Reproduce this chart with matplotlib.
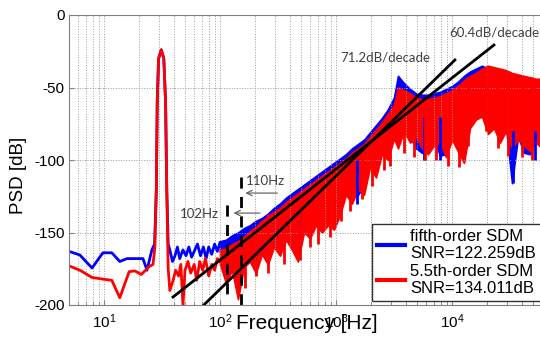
import matplotlib
matplotlib.use("Agg")
import matplotlib.pyplot as plt
from matplotlib.lines import Line2D

plt.rcParams["font.family"] = ["Liberation Sans", "DejaVu Sans"]
plt.rcParams["mathtext.default"] = "regular"
plt.rcParams["axes.unicode_minus"] = False

# --- low frequency part, drawn as plain lines (Hz, dB) ---
BLUE_LF_F = [5.0, 6.2, 7.9, 9.8, 11.7, 13.7, 15.8, 21.7, 23.5, 25.9, 27.3,
             28.3, 28.8, 29.6, 31.2, 32.8, 34.0, 34.8, 35.8,
             37, 39, 41, 43, 45, 48, 51, 54, 57, 60, 64, 68, 72, 76, 80, 85, 90, 95, 100]
BLUE_LF_DB = [-163, -165.5, -174.5, -164, -164, -170, -168, -168, -176, -162, -158,
              -120, -60, -30, -24, -30, -60, -120, -158,
              -162, -170, -166, -160, -168, -162, -166, -160, -167, -163, -158, -166,
              -160, -168, -160, -165, -158, -163, -157]

RED_LF_F = [5.0, 6.2, 7.9, 9.5, 11.7, 13.7, 16.5, 18.5, 21, 24.5, 26.5, 27.5,
            28.3, 28.8, 29.6, 31.2, 32.8, 34.0, 34.8, 35.8,
            37, 39.5, 41.5, 44, 46, 48, 50, 53, 56, 60, 63, 67, 71, 75, 80, 85, 90, 95, 100]
RED_LF_DB = [-173, -176, -181, -182, -183, -195, -177, -176.5, -179, -173.5, -172, -160,
             -120, -60, -30, -24, -30, -60, -120, -175,
             -190, -183, -176, -180, -172, -200, -176, -170, -178, -172, -183, -170,
             -176, -168, -180, -172, -176, -168, -170]

# --- noisy part above 100 Hz: upper / lower edge of each trace ---
BAND_F = [100, 113, 127, 143, 161, 181, 204, 230, 259, 292, 329, 371, 418, 470,
          530, 597, 672, 757, 853, 961, 1083, 1219, 1374, 1548, 1743, 1964, 2212,
          2492, 2807, 3162, 3423, 3857, 4345, 4894, 5513, 6211, 6996, 7881, 8878,
          10000, 11265, 12690, 14295, 16103, 18140, 20434, 23018, 25929, 29209,
          32903, 37065, 41753, 47034, 52983, 59684]
BLUE_HI = [-156, -155, -152, -150, -147, -145, -142, -140, -137, -133, -130, -126,
           -123, -120, -117, -114, -111, -108, -105, -102, -99, -96, -92, -89, -86,
           -81, -76, -71, -65, -57, -42, -47, -51, -54, -55, -55, -54, -53, -51,
           -49, -46, -42, -39, -37, -35, -37, -38, -39, -40, -42, -43, -44, -45, -46, -46]
BLUE_LO = [-163, -162, -161, -160, -157, -155, -153, -151, -148, -150, -152, -148,
           -150, -158, -145, -148, -140, -144, -140, -142, -132, -120, -125, -124,
           -118, -100, -106, -92, -95, -82, -88, -78, -84, -92, -95, -92, -86, -97,
           -96, -82, -90, -96, -75, -70, -68, -78, -75, -84, -78, -116, -84, -95,
           -96, -86, -90]
RED_HI = [-162, -161, -158, -156, -153, -149, -146, -142, -139, -136, -133, -129,
          -126, -123, -120, -117, -114, -111, -108, -105, -102, -99, -95, -92, -89,
          -84, -79, -74, -68, -62, -50, -52, -54, -57, -58, -58, -57, -56, -54,
          -52, -49, -45, -42, -40, -37, -35, -36, -37, -38, -40, -41, -42, -43, -44, -44]
RED_LO = [-172, -185, -176, -196, -174, -170, -178, -165, -172, -160, -166, -155,
          -162, -170, -150, -154, -145, -150, -145, -148, -138, -124, -130, -120,
          -124, -105, -112, -96, -100, -85, -92, -80, -88, -84, -92, -96, -90, -88,
          -98, -86, -94, -102, -78, -72, -70, -82, -78, -88, -80, -92, -86, -90,
          -94, -88, -92]

# single deep dips below the bands (Hz, bottom dB, top dB)
RED_DIP_F = [164, 204, 259, 357, 490, 597, 700, 890, 1100, 1320, 1670, 2030, 2600,
             2900, 3857, 4720, 5860, 7270, 9220, 11500, 13700, 19500, 24900, 30300,
             40200, 48700]
RED_DIP_LO = [-188, -180, -178, -172, -169, -160, -158, -153, -142, -135, -127, -118,
              -107, -104, -95, -98, -100, -100, -104, -105, -90, -80, -92, -97, -98, -100]
RED_DIP_HI = [-155, -146, -137, -130, -124, -119, -115, -109, -103, -98, -92, -85,
              -73, -68, -52, -56, -58, -57, -53, -48, -43, -36, -37, -39, -42, -43]
BLUE_DIP_F = [490, 1510, 5720, 7880, 33900, 51500]
BLUE_DIP_LO = [-158, -130, -100, -100, -116, -100]
BLUE_DIP_HI = [-130, -100, -70, -70, -80, -80]

# slope guide lines (Hz, dB) and their labels
SLOPE_604_F = [39.4, 23000]
SLOPE_604_DB = [-194.5, -20.7]
SLOPE_712_F = [72.6, 10600]
SLOPE_712_DB = [-200, -31]

fig = plt.figure(figsize=(5.4, 3.44), dpi=100)
ax = fig.add_axes([69 / 540, 1 - 305 / 344, (568 - 69) / 540, 290 / 344])

BLUE = "#0000ff"
RED = "#ff0000"

ax.plot(BLUE_LF_F, BLUE_LF_DB, color=BLUE, lw=2)
ax.fill_between(BAND_F, BLUE_LO, BLUE_HI, color=BLUE, lw=1.2, edgecolor=BLUE)
ax.vlines(BLUE_DIP_F, BLUE_DIP_LO, BLUE_DIP_HI, color=BLUE, lw=2)
ax.plot(RED_LF_F, RED_LF_DB, color=RED, lw=2)
ax.fill_between(BAND_F, RED_LO, RED_HI, color=RED, lw=1.2, edgecolor=RED)
ax.vlines(RED_DIP_F, RED_DIP_LO, RED_DIP_HI, color=RED, lw=2)

ax.plot(SLOPE_604_F, SLOPE_604_DB, color="black", lw=2)
ax.plot(SLOPE_712_F, SLOPE_712_DB, color="black", lw=2)
ax.text(2640, -29, "71.2dB/decade", fontsize=9.5, family="Lato", color="#404040",
        ha="center", va="center")
ax.text(23000, -12.4, "60.4dB/decade", fontsize=9.5, family="Lato", color="#404040",
        ha="center", va="center")

# bandwidth markers
ax.plot([115, 115], [-131, -194.5], color="black", lw=2, ls=(0, (4, 3)))
ax.plot([151.5, 151.5], [-111.7, -200], color="black", lw=2, ls=(0, (4, 3)))
ax.annotate("", xy=(124, -136.6), xytext=(234, -136.6),
            arrowprops=dict(arrowstyle="->", color="#555555", lw=0.8))
ax.annotate("", xy=(157, -122.8), xytext=(330, -122.8),
            arrowprops=dict(arrowstyle="->", color="#555555", lw=0.8))
ax.text(67, -137, "102Hz", fontsize=9.5, family="Lato", color="#404040",
        ha="center", va="center")
ax.text(245, -114.5, "110Hz", fontsize=9.5, family="Lato", color="#404040",
        ha="center", va="center")

ax.set_xscale("log")
ax.set_xlim(5, 1e5)
ax.set_ylim(-200, 0)
ax.set_yticks([-200, -150, -100, -50, 0])
ax.grid(True, which="both", axis="x", ls=":", color="#9a9a9a", lw=0.7)
ax.grid(True, which="major", axis="y", ls=":", color="#9a9a9a", lw=0.7)
ax.tick_params(which="both", direction="in", color="#808080", labelsize=11)
ax.tick_params(axis="y", pad=3)
ax.tick_params(axis="x", pad=5)
for s in ax.spines.values():
    s.set_color("#808080")

ax.set_xlabel("Frequency [Hz]", fontsize=15)
ax.xaxis.set_label_coords((307 - 69) / 499, (305 - 314) / 290)
ax.set_ylabel("PSD [dB]", fontsize=13.5)
ax.yaxis.set_label_coords((27 - 69) / 499, (305 - 175) / 290)

handles = [Line2D([], [], color=BLUE, lw=3), Line2D([], [], color=RED, lw=3)]
labels = ["fifth-order SDM\nSNR=122.259dB", "5.5th-order SDM\nSNR=134.011dB"]
fig.legend(handles, labels, loc="upper left", bbox_to_anchor=(372 / 540, 1 - 224 / 344),
           fontsize=12, frameon=True, fancybox=False, edgecolor="#333333",
           framealpha=1, handlelength=1.7, handletextpad=0.3, borderpad=0.3,
           labelspacing=0.15, borderaxespad=0)

fig.savefig("out.png", dpi=100)
